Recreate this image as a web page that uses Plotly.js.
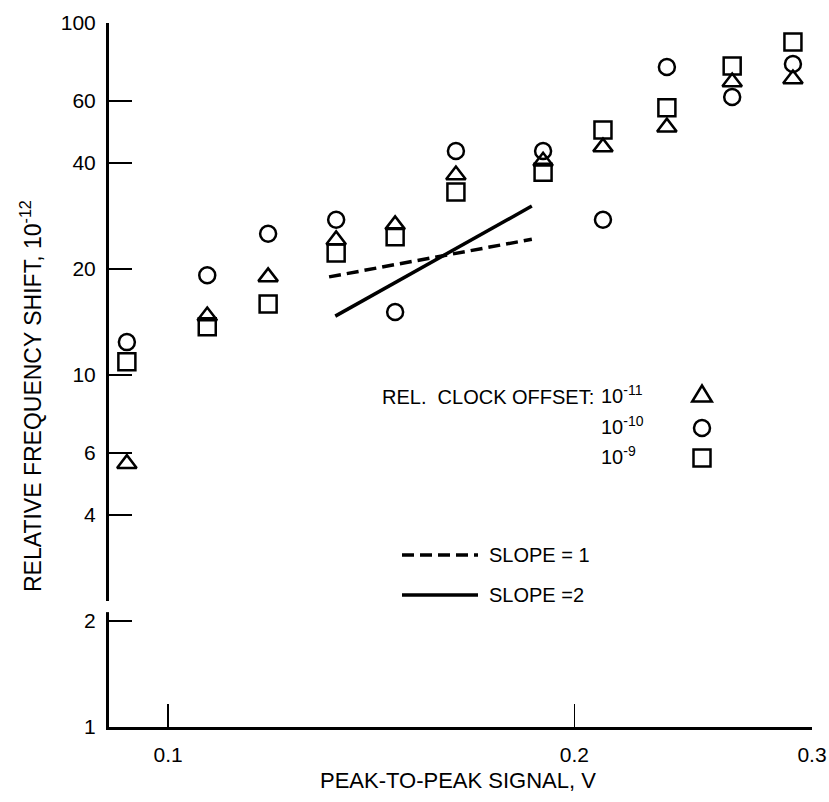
<!DOCTYPE html>
<html>
<head>
<meta charset="utf-8">
<script src="https://cdn.plot.ly/plotly-3.0.1.min.js"></script>
<style>
  html, body { margin: 0; padding: 0; background: #fff; }
  #chart { width: 829px; height: 802px; }
</style>
</head>
<body>
<div id="chart"></div>
<script>
// ---- data ----
const voltage = [0.0932, 0.1069, 0.1186, 0.1332, 0.1473, 0.1634, 0.1896, 0.2100, 0.2342, 0.2618, 0.2904];
const offset1e11 = [5.6, 14.7, 19.0, 24.2, 26.7, 37.0, 40.5, 44.4, 50.6, 68.0, 69.3];   // triangles
const offset1e10 = [12.4, 19.2, 25.2, 27.6, 15.1, 43.3, 43.3, 27.6, 75.0, 61.6, 76.5];  // circles
const offset1e9  = [10.9, 13.7, 15.9, 22.2, 24.7, 33.1, 37.7, 49.7, 57.4, 75.5, 88.3];  // squares

const slope1X = [0.1316, 0.1860];
const slope1Y = [19.0, 24.3];
const slope2X = [0.1330, 0.1860];
const slope2Y = [14.7, 30.2];

const xTickVals = [0.1, 0.2, 0.3];
const xTickText = ['0.1', '0.2', '0.3'];
const yTickVals = [1, 2, 4, 6, 10, 20, 40, 60, 100];
const yTickText = ['1', '2', '4', '6', '10', '20', '40', '60', '100'];

const seriesNames = ['10<sup>-11</sup>', '10<sup>-10</sup>', '10<sup>-9</sup>'];
const legendLabel = 'REL.  CLOCK OFFSET:';
const slopeNames = ['SLOPE = 1', 'SLOPE =2'];

// ---- chart ----
const FONT = '"Liberation Sans", Arial, Helvetica, sans-serif';
const INK = '#000';

function markerTrace(y, symbol, size, name) {
  return {
    x: voltage, y: y, type: 'scatter', mode: 'markers', name: name,
    marker: { symbol: symbol, size: size, color: INK, line: { width: 2.5, color: INK } },
    showlegend: false, hoverinfo: 'x+y'
  };
}

const traces = [
  { x: slope1X, y: slope1Y, type: 'scatter', mode: 'lines', name: slopeNames[0],
    line: { color: INK, width: 3.5, dash: '12px,6px' }, showlegend: false },
  { x: slope2X, y: slope2Y, type: 'scatter', mode: 'lines', name: slopeNames[1],
    line: { color: INK, width: 3.5 }, showlegend: false },
  markerTrace(offset1e11, 'triangle-up-open', 17, seriesNames[0]),
  markerTrace(offset1e10, 'circle-open', 16, seriesNames[1]),
  markerTrace(offset1e9, 'square-open', 17, seriesNames[2])
];

// plot box in pixels: left 109, right 812, top 23, bottom 727
const L = 109, R = 812, T = 23, B = 727;
const px = v => (v - L) / (R - L);
const py = v => (B - v) / (B - T);

const txt = (text, x, y, xanchor, size, extra) => Object.assign({
  text: text, x: px(x), y: py(y), xref: 'paper', yref: 'paper',
  xanchor: xanchor, yanchor: 'middle', showarrow: false,
  font: { family: FONT, size: size, color: INK }
}, extra || {});

const annotations = [
  txt('PEAK-TO-PEAK SIGNAL, V', 458, 780, 'center', 22),
  txt('RELATIVE FREQUENCY SHIFT, 10<sup>-12</sup>', 31, 396, 'center', 23, { textangle: -90 }),
  txt(legendLabel, 596, 397, 'right', 20),
  txt(seriesNames[0], 599, 394, 'left', 20),
  txt(seriesNames[1], 599, 425, 'left', 20),
  txt(seriesNames[2], 599, 455, 'left', 20),
  txt(slopeNames[0], 487, 555, 'left', 20),
  txt(slopeNames[1], 487, 595, 'left', 20)
];

const keyX = px(702);
const keyBase = { xref: 'paper', yref: 'paper', xsizemode: 'pixel', ysizemode: 'pixel',
                  xanchor: keyX, line: { color: INK, width: 2.5 }, layer: 'above' };
const shapes = [
  // axis break on the y axis between 2 and 4
  { type: 'rect', xref: 'paper', yref: 'y', x0: -0.01, x1: 0.01, y0: 2.12, y1: 2.28,
    fillcolor: '#fff', line: { width: 0 }, layer: 'above' },
  // legend keys
  Object.assign({}, keyBase, { type: 'path', yanchor: py(397), path: 'M-9.8,-4.5 L9.8,-4.5 L0,11.5 Z' }),
  Object.assign({}, keyBase, { type: 'circle', yanchor: py(428), x0: -8, x1: 8, y0: -8, y1: 8 }),
  Object.assign({}, keyBase, { type: 'rect', yanchor: py(458), x0: -8.5, x1: 8.5, y0: -8.5, y1: 8.5 }),
  { type: 'line', xref: 'paper', yref: 'paper', x0: px(402), x1: px(478), y0: py(555), y1: py(555),
    line: { color: INK, width: 3.5, dash: '12px,6px' } },
  { type: 'line', xref: 'paper', yref: 'paper', x0: px(402), x1: px(478), y0: py(595), y1: py(595),
    line: { color: INK, width: 3.5 } }
];

const axisCommon = {
  type: 'log', ticks: 'inside', ticklen: 23, tickwidth: 1.5, tickcolor: INK,
  showline: true, linecolor: INK, linewidth: 3, showgrid: false, zeroline: false,
  tickfont: { family: FONT, size: 21, color: INK }, mirror: false, fixedrange: true
};

const layout = {
  width: 829, height: 802,
  margin: { l: L, r: 829 - R, t: T, b: 802 - B, pad: 0 },
  paper_bgcolor: '#fff', plot_bgcolor: '#fff',
  showlegend: false,
  font: { family: FONT, color: INK },
  xaxis: Object.assign({}, axisCommon, {
    range: [Math.log10(0.0904), Math.log10(0.3)],
    tickmode: 'array', tickvals: xTickVals, ticktext: xTickText,
    ticklabelstandoff: 7
  }),
  yaxis: Object.assign({}, axisCommon, {
    range: [0, 2],
    tickmode: 'array', tickvals: yTickVals, ticktext: yTickText,
    ticklabelstandoff: 6
  }),
  annotations: annotations,
  shapes: shapes
};

Plotly.newPlot('chart', traces, layout, { staticPlot: true, displayModeBar: false });
</script>
</body>
</html>
